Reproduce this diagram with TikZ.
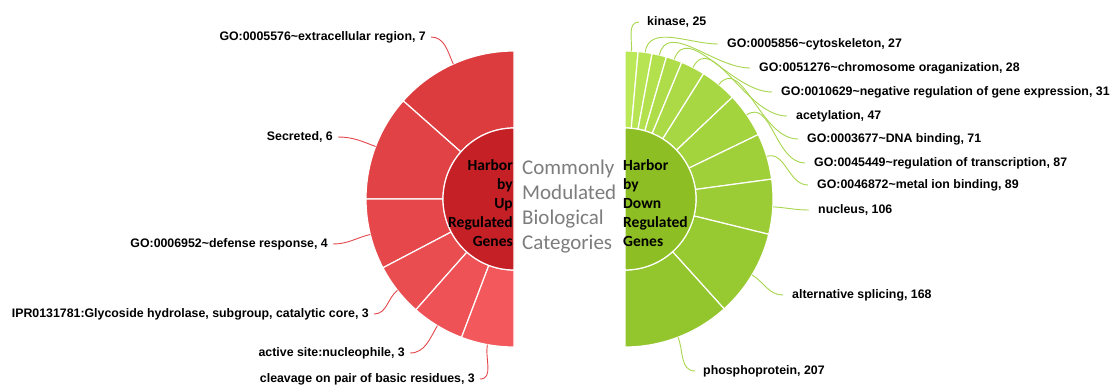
\documentclass[tikz,border=0pt]{standalone}
\usepackage{fontspec}
\setmainfont{Liberation Sans}
\newfontfamily\calib{Carlito}
\usetikzlibrary{calc}

\definecolor{redIn}{RGB}{196,32,38}
\definecolor{rA}{RGB}{221,60,63}
\definecolor{rB}{RGB}{225,66,69}
\definecolor{rC}{RGB}{229,71,75}
\definecolor{rD}{RGB}{233,77,80}
\definecolor{rE}{RGB}{238,82,86}
\definecolor{rF}{RGB}{242,88,92}
\definecolor{greenIn}{RGB}{141,190,36}
\definecolor{g1}{RGB}{187,232,87}
\definecolor{g2}{RGB}{183,228,82}
\definecolor{g3}{RGB}{179,225,78}
\definecolor{g4}{RGB}{175,221,74}
\definecolor{g5}{RGB}{171,218,70}
\definecolor{g6}{RGB}{167,215,66}
\definecolor{g7}{RGB}{163,211,61}
\definecolor{g8}{RGB}{159,208,57}
\definecolor{g9}{RGB}{155,204,53}
\definecolor{g10}{RGB}{151,201,49}
\definecolor{g11}{RGB}{147,198,45}
\definecolor{leadred}{RGB}{228,72,76}
\definecolor{leadgreen}{RGB}{168,214,78}
\definecolor{cgray}{RGB}{125,125,125}

\newcommand\annsec[4]{% center, a1, a2, color
  \filldraw[fill=#4, sepline] ($(#1)+(#2:71pt)$) -- ($(#1)+(#2:148pt)$)
    arc[start angle=#2, end angle=#3, radius=148pt]
    -- ($(#1)+(#3:71pt)$) arc[start angle=#3, end angle=#2, radius=71pt] -- cycle;}

\tikzset{
  sepline/.style={draw=white, line width=1.2pt},
  lab/.style={font=\bfseries\fontsize{12.35}{14}\selectfont, inner sep=0pt, text height=9pt, text depth=2.5pt},
  leadL/.style={draw=leadred, line width=0.9pt},
  leadR/.style={draw=leadgreen, line width=0.9pt},
  ctext/.style={font=\calib\fontsize{21}{25}\selectfont, text=cgray, align=left, inner sep=0pt},
  itext/.style={font=\calib\bfseries\fontsize{15.5}{19}\selectfont, text=black, inner sep=0pt}
}

\begin{document}
\begin{tikzpicture}[x=1pt,y=1pt]
\useasboundingbox (0,0) rectangle (1110,384);
\fill[white] (0,0) rectangle (1110,384);

\coordinate (L) at (514,185);
\coordinate (R) at (625,185);

% ---- left (up) ring
\annsec{L}{90}{138.46}{rA}
\annsec{L}{138.46}{180}{rB}
\annsec{L}{180}{207.69}{rC}
\annsec{L}{207.69}{228.46}{rD}
\annsec{L}{228.46}{249.23}{rE}
\annsec{L}{249.23}{270}{rF}
\filldraw[fill=redIn, sepline] ($(L)+(90:71pt)$) arc[start angle=90, end angle=270, radius=71pt] -- cycle;

% ---- right (down) ring
\annsec{R}{90}{84.92}{g1}
\annsec{R}{84.92}{79.44}{g2}
\annsec{R}{79.44}{73.75}{g3}
\annsec{R}{73.75}{67.45}{g4}
\annsec{R}{67.45}{57.90}{g5}
\annsec{R}{57.90}{43.48}{g6}
\annsec{R}{43.48}{25.80}{g7}
\annsec{R}{25.80}{7.72}{g8}
\annsec{R}{7.72}{-13.81}{g9}
\annsec{R}{-13.81}{-47.94}{g10}
\annsec{R}{-47.94}{-90}{g11}
\filldraw[fill=greenIn, sepline] ($(R)+(90:71pt)$) arc[start angle=90, end angle=-90, radius=71pt] -- cycle;

% ---- centre texts
\node[ctext, anchor=west] (cc) at (522,177) {Commonly\\Modulated\\Biological\\Categories};
\node[itext, anchor=east, align=right] (hu) at (513,180.5) {Harbor\\by\\Up\\Regulated\\Genes};
\node[itext, anchor=west, align=left] (hd) at (623,180.5) {Harbor\\by\\Down\\Regulated\\Genes};

% ---- left labels
\node[lab, anchor=east] (u1) at (426,347) {GO:0005576\textasciitilde extracellular region, 7};
\node[lab, anchor=east] (u2) at (333,247) {Secreted, 6};
\node[lab, anchor=east] (u3) at (328,140) {GO:0006952\textasciitilde defense response, 4};
\node[lab, anchor=east] (u4) at (369,70) {IPR0131781:Glycoside hydrolase, subgroup, catalytic core, 3};
\node[lab, anchor=east] (u5) at (405,31) {active site:nucleophile, 3};
\node[lab, anchor=east] (u6) at (475,5) {cleavage on pair of basic residues, 3};

\coordinate (ua1) at ($(L)+(114.23:148pt)$);
\coordinate (ua2) at ($(L)+(159.23:148pt)$);
\coordinate (ua3) at ($(L)+(193.85:148pt)$);
\coordinate (ua4) at ($(L)+(218.08:148pt)$);
\coordinate (ua5) at ($(L)+(238.85:148pt)$);
\coordinate (ua6) at ($(L)+(259.62:148pt)$);

\draw[leadL] (ua1) to[out=114.23,in=0] ([xshift=5pt]u1.east);
\draw[leadL] (ua2) to[out=159.23,in=0] ([xshift=5pt]u2.east);
\draw[leadL] (ua3) to[out=193.85,in=0] ([xshift=5pt]u3.east);
\draw[leadL] (ua4) to[out=218.08,in=0] ([xshift=5pt]u4.east);
\draw[leadL] (ua5) to[out=238.85,in=0] ([xshift=5pt]u5.east);
\draw[leadL] (ua6) to[out=259.62,in=0] ([xshift=5pt]u6.east);

% ---- right labels
\node[lab, anchor=west] (d1) at (647,362) {kinase, 25};
\node[lab, anchor=west] (d2) at (727,340) {GO:0005856\textasciitilde cytoskeleton, 27};
\node[lab, anchor=west] (d3) at (759,316) {GO:0051276\textasciitilde chromosome oraganization, 28};
\node[lab, anchor=west] (d4) at (781,292) {GO:0010629\textasciitilde negative regulation of gene expression, 31};
\node[lab, anchor=west] (d5) at (796,268) {acetylation, 47};
\node[lab, anchor=west] (d6) at (807,245) {GO:0003677\textasciitilde DNA binding, 71};
\node[lab, anchor=west] (d7) at (814,221) {GO:0045449\textasciitilde regulation of transcription, 87};
\node[lab, anchor=west] (d8) at (817,199) {GO:0046872\textasciitilde metal ion binding, 89};
\node[lab, anchor=west] (d9) at (818,174) {nucleus, 106};
\node[lab, anchor=west] (d10) at (792,89) {alternative splicing, 168};
\node[lab, anchor=west] (d11) at (703,13) {phosphoprotein, 207};

\coordinate (da1) at ($(R)+(87.46:148pt)$);
\coordinate (da2) at ($(R)+(82.18:148pt)$);
\coordinate (da3) at ($(R)+(76.59:148pt)$);
\coordinate (da4) at ($(R)+(70.60:148pt)$);
\coordinate (da5) at ($(R)+(62.68:148pt)$);
\coordinate (da6) at ($(R)+(50.69:148pt)$);
\coordinate (da7) at ($(R)+(34.64:148pt)$);
\coordinate (da8) at ($(R)+(16.76:148pt)$);
\coordinate (da9) at ($(R)+(-3.05:148pt)$);
\coordinate (da10) at ($(R)+(-30.87:148pt)$);
\coordinate (da11) at ($(R)+(-68.97:148pt)$);

\draw[leadR] (da1) to[out=87.46,in=180] ([xshift=-8pt]d1.west);
\draw[leadR] (da2) to[out=82.18,in=180] ([xshift=-9pt]d2.west);
\draw[leadR] (da3) to[out=76.59,in=180] ([xshift=-9pt]d3.west);
\draw[leadR] (da4) to[out=70.60,in=180] ([xshift=-9pt]d4.west);
\draw[leadR] (da5) to[out=62.68,in=180] ([xshift=-9pt]d5.west);
\draw[leadR] (da6) to[out=50.69,in=180] ([xshift=-9pt]d6.west);
\draw[leadR] (da7) to[out=34.64,in=180] ([xshift=-9pt]d7.west);
\draw[leadR] (da8) to[out=16.76,in=180] ([xshift=-9pt]d8.west);
\draw[leadR] (da9) to[out=-3.05,in=180] ([xshift=-9pt]d9.west);
\draw[leadR] (da10) to[out=-30.87,in=180] ([xshift=-9pt]d10.west);
\draw[leadR] (da11) to[out=-68.97,in=180] ([xshift=-8pt]d11.west);
\end{tikzpicture}
\end{document}
